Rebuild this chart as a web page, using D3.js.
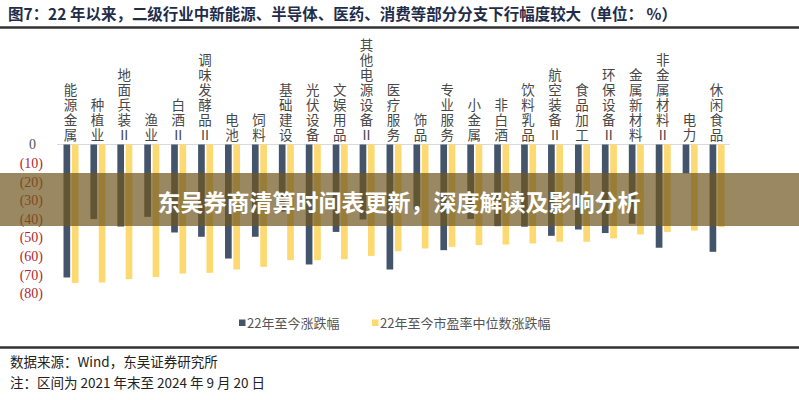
<!DOCTYPE html>
<html><head><meta charset="utf-8">
<script src="https://cdn.jsdelivr.net/npm/d3@7"></script>
<style>
html,body{margin:0;padding:0;background:#fff;}
svg{display:block;}
</style></head>
<body>
<script>
const titleText = "图7：22 年以来，二级行业中新能源、半导体、医药、消费等部分分支下行幅度较大（单位： %）";
const categories = ["能源金属","种植业","地面兵装Ⅱ","渔业","白酒Ⅱ","调味发酵品Ⅱ","电池","饲料","基础建设","光伏设备","文娱用品","其他电源设备Ⅱ","医疗服务","饰品","专业服务","小金属","非白酒","饮料乳品","航空装备Ⅱ","食品加工","环保设备Ⅱ","金属新材料","非金属材料Ⅱ","电力","休闲食品"];
const seriesNames = ["22年至今涨跌幅","22年至今市盈率中位数涨跌幅"];
const priceChange = [-71.5,-40.1,-44.1,-38.9,-47.3,-49.6,-61.3,-49.6,-36.0,-64.5,-47.0,-40.3,-67.2,-35.0,-56.8,-40.0,-43.9,-44.2,-49.1,-45.7,-47.6,-42.6,-55.5,-15.5,-57.7];
const peChange = [-74.4,-74.2,-72.4,-71.2,-69.4,-69.0,-67.2,-65.8,-62.2,-62.2,-61.7,-59.9,-57.4,-55.9,-55.0,-54.1,-53.8,-53.2,-52.3,-52.3,-50.5,-48.4,-47.0,-46.3,-44.4];
const yTicks = [0,-10,-20,-30,-40,-50,-60,-70,-80];
const sourceText = "数据来源：Wind，东吴证券研究所";
const noteText = "注：区间为 2021 年末至 2024 年 9 月 20 日";
const bannerText = "东吴券商清算时间表更新，深度解读及影响分析";

const W = 799, H = 400;
const colors = ["#44546a", "#fdd971"];
const cjk = "'Noto Sans CJK SC','Noto Sans',sans-serif";
const serif = "'Liberation Serif','DejaVu Serif',serif";

const svg = d3.select("body").append("svg").attr("width", W).attr("height", H);
svg.append("rect").attr("width", W).attr("height", H).attr("fill", "#fff");

// title
svg.append("text").attr("x", 8).attr("y", 20)
  .attr("font-family", cjk).attr("font-weight", "bold").attr("font-size", 15.5)
  .attr("fill", "#1f2d4a").attr("textLength", 669).attr("lengthAdjust", "spacingAndGlyphs")
  .text(titleText);
svg.append("line").attr("x1", 0).attr("x2", W).attr("y1", 27.5).attr("y2", 27.5)
  .attr("stroke", "#333").attr("stroke-width", 2.5);

// scales
const x = d3.scaleBand().domain(categories).range([57, 730]);
const x1 = d3.scaleBand().domain([0, 1]).range([6.5, 21.5]).paddingInner(0.2);
const y = d3.scaleLinear().domain([0, -80]).range([144.5, 293.3]);

// axis line
svg.append("line").attr("x1", 57).attr("x2", 730).attr("y1", y(0)).attr("y2", y(0))
  .attr("stroke", "#d9d9d9").attr("stroke-width", 1.2);

// bars
const data = categories.map((c, i) => ({c, vals: [priceChange[i], peChange[i]]}));
const g = svg.append("g");
data.forEach(d => {
  d.vals.forEach((v, k) => {
    g.append("rect")
      .attr("x", x(d.c) + x1(k))
      .attr("y", y(0))
      .attr("width", x1.bandwidth())
      .attr("height", y(v) - y(0))
      .attr("fill", colors[k]);
  });
});

// y axis
const yAxis = d3.axisLeft(y).tickValues(yTicks).tickSize(0)
  .tickFormat(d => d === 0 ? "0\u2002" : `(${-d})`);
const ya = svg.append("g").attr("transform", "translate(46,0)").call(yAxis);
ya.select(".domain").remove();
ya.selectAll("text").attr("font-family", serif).attr("font-size", 14)
  .attr("fill", d => d === 0 ? "#555" : "#b0272d");

// category labels (vertical, one character per line)
const labG = svg.append("g").attr("font-family", cjk).attr("font-size", 13.5).attr("fill", "#484848");
categories.forEach(c => {
  const chars = Array.from(c);
  const cx = x(c) + x.bandwidth() / 2;
  chars.forEach((ch, i) => {
    labG.append("text").attr("x", cx).attr("y", 140 - (chars.length - 1 - i) * 15)
      .attr("text-anchor", "middle").text(ch);
  });
});

// legend
const lg = svg.append("g").attr("font-family", cjk).attr("font-size", 13).attr("fill", "#555");
const legendX = [239, 372];
seriesNames.forEach((s, k) => {
  lg.append("rect").attr("x", legendX[k]).attr("y", 319.5).attr("width", 6.5).attr("height", 6.5).attr("fill", colors[k]);
  lg.append("text").attr("x", legendX[k] + 8).attr("y", 328).text(s);
});

// footer
svg.append("line").attr("x1", 0).attr("x2", W).attr("y1", 347.5).attr("y2", 347.5)
  .attr("stroke", "#333").attr("stroke-width", 2.5);
svg.append("text").attr("x", 10).attr("y", 367).attr("font-family", cjk).attr("font-size", 13.5)
  .attr("fill", "#222").text(sourceText);
svg.append("text").attr("x", 10).attr("y", 388).attr("font-family", cjk).attr("font-size", 13.5)
  .attr("fill", "#222").text(noteText);

// banner overlay
svg.append("rect").attr("x", 0).attr("y", 173).attr("width", W).attr("height", 53)
  .attr("fill", "rgba(110,85,30,0.7)");
svg.append("text").attr("x", 399).attr("y", 200.5).attr("text-anchor", "middle")
  .attr("dominant-baseline", "central")
  .attr("font-family", cjk).attr("font-weight", "bold").attr("font-size", 23)
  .attr("fill", "#fff").text(bannerText);
</script>
</body></html>
